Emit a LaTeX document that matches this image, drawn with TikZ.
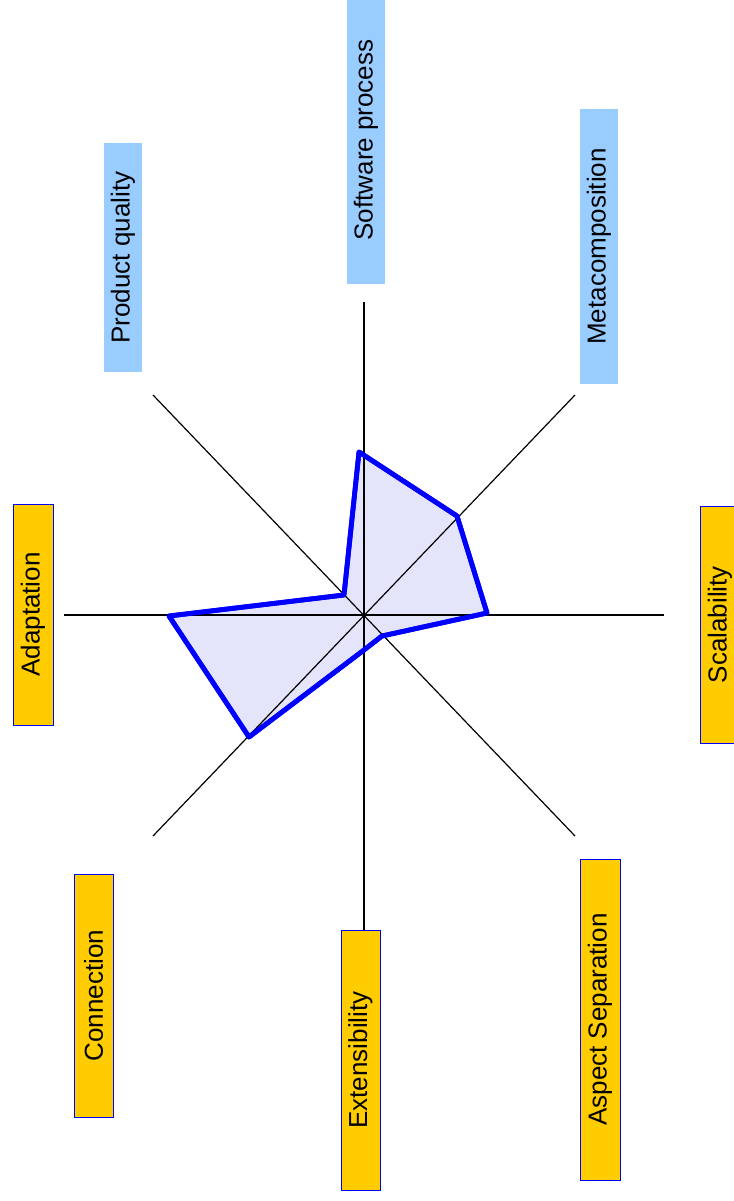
\documentclass[tikz,border=0pt]{standalone}
\usepackage{fontspec}
\setmainfont{Liberation Sans}
\begin{document}
\begin{tikzpicture}[x=1pt,y=-1pt,
  axis/.style={black,line width=1.2pt},
  lab/.style={rotate=90,inner sep=0pt,font=\fontsize{26}{30}\selectfont,text=black},
  bluebox/.style={lab,fill={rgb,255:red,153;green,204;blue,255}},
  yelbox/.style={lab,fill={rgb,255:red,255;green,204;blue,0},draw={rgb,255:red,0;green,0;blue,255},line width=1pt},
  poly/.style={draw={rgb,255:red,0;green,0;blue,255},line width=4.8pt,line join=round,fill={rgb,255:red,228;green,228;blue,250}}]
\useasboundingbox (0,0) rectangle (733,1201);
% centre and axis ends
\coordinate (c) at (364,615);
\coordinate (eN) at (364,302);
\coordinate (eS) at (364,930);
\coordinate (eW) at (64,615);
\coordinate (eE) at (664,615);
\coordinate (eNW) at (153,395);
\coordinate (eNE) at (575,395);
\coordinate (eSW) at (153,836);
\coordinate (eSE) at (575,836);
% data points
\coordinate (p1) at (359,452);
\coordinate (p2) at (457,516);
\coordinate (p3) at (487,613);
\coordinate (p4) at (382,636);
\coordinate (p5) at (364,650);
\coordinate (p6) at (249,737);
\coordinate (p7) at (169,616);
\coordinate (p8) at (344,595);
\path[poly] (p1) -- (p2) -- (p3) -- (p4) -- (p5) -- (p6) -- (p7) -- (p8) -- cycle;
\draw[axis] (eN) -- (eS);
\draw[axis] (eW) -- (eE);
\draw[axis] (eNW) -- (eSE);
\draw[axis] (eNE) -- (eSW);
\path[poly,fill=none] (p1) -- (p2) -- (p3) -- (p4) -- (p5) -- (p6) -- (p7) -- (p8) -- cycle;
% labels
\node[bluebox,minimum width=288,minimum height=38] (sw) at (366,140) {Software process};
\node[bluebox,minimum width=275,minimum height=38] (mc) at (599,246.5) {Metacomposition};
\node[bluebox,minimum width=229,minimum height=38] (pq) at (123,257.5) {Product quality};
\node[yelbox,minimum width=221,minimum height=40] (ad) at (33,614.5) {Adaptation};
\node[yelbox,minimum width=237,minimum height=40] (sc) at (720,624.5) {Scalability};
\node[yelbox,minimum width=243,minimum height=39] (cn) at (93.5,995.5) {Connection};
\node[yelbox,minimum width=260,minimum height=39] (ex) at (360.5,1060) {Extensibility};
\node[yelbox,minimum width=321,minimum height=40] (as) at (600,1019.5) {Aspect Separation};
\end{tikzpicture}
\end{document}
